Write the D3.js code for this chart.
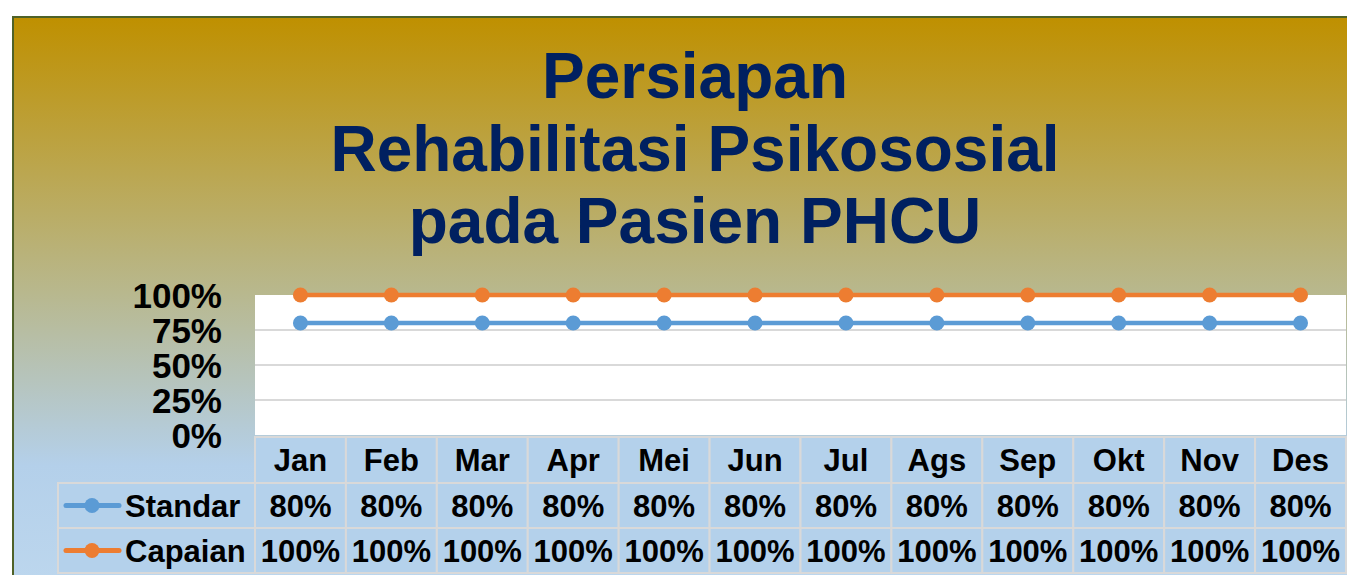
<!DOCTYPE html>
<html>
<head>
  <meta charset="utf-8">
  <title>Persiapan Rehabilitasi Psikososial</title>
  <script src="https://d3js.org/d3.v7.min.js"></script>
  <style>
    body { margin: 0; background: #fff; }
    text { font-family: "Liberation Sans", Arial, sans-serif; font-weight: bold; }
  </style>
</head>
<body>
  <svg id="chart"></svg>
  <script>
    // data
    var months = ["Jan", "Feb", "Mar", "Apr", "Mei", "Jun", "Jul", "Ags", "Sep", "Okt", "Nov", "Des"];
    var standar = [0.8, 0.8, 0.8, 0.8, 0.8, 0.8, 0.8, 0.8, 0.8, 0.8, 0.8, 0.8];
    var capaian = [1, 1, 1, 1, 1, 1, 1, 1, 1, 1, 1, 1];
    var yTicks = [0, 0.25, 0.5, 0.75, 1];
    var titleLines = ["Persiapan", "Rehabilitasi Psikososial", "pada Pasien PHCU"];

    var series = [
      { name: "Standar", values: standar, color: "#5b9bd5" },
      { name: "Capaian", values: capaian, color: "#ed7d31" }
    ];

    var W = 1347, H = 575;
    var plot = { left: 255, right: 1346, top: 295, bottom: 435 };

    var svg = d3.select("#chart").attr("width", W).attr("height", H);

    // background gradient
    var grad = svg.append("defs").append("linearGradient")
      .attr("id", "bg").attr("x1", 0).attr("y1", 0).attr("x2", 0).attr("y2", 1);
    grad.append("stop").attr("offset", "0%").attr("stop-color", "#bf9000");
    grad.append("stop").attr("offset", "48%").attr("stop-color", "#b8b88e");
    grad.append("stop").attr("offset", "78%").attr("stop-color", "#b4d0ea");
    grad.append("stop").attr("offset", "100%").attr("stop-color", "#bdd7ee");

    svg.append("rect")
      .attr("x", 13).attr("y", 17).attr("width", W + 20).attr("height", H)
      .attr("fill", "url(#bg)")
      .attr("stroke", "#4f6228").attr("stroke-width", 2);

    // title
    svg.append("text")
      .attr("text-anchor", "middle")
      .attr("fill", "#002060")
      .style("font-size", "64px")
      .selectAll("tspan")
      .data(titleLines)
      .enter().append("tspan")
      .attr("x", 695)
      .attr("y", function (d, i) { return 98 + i * 72.5; })
      .text(function (d) { return d; });

    // scales
    var x = d3.scaleBand().domain(months).range([plot.left, plot.right]).padding(0);
    var y = d3.scaleLinear().domain([0, 1]).range([plot.bottom, plot.top]);

    // plot area
    svg.append("rect")
      .attr("x", plot.left).attr("y", plot.top)
      .attr("width", plot.right - plot.left).attr("height", plot.bottom - plot.top)
      .attr("fill", "#fff");

    svg.append("g").selectAll("line")
      .data(yTicks.slice(1, 4))
      .enter().append("line")
      .attr("x1", plot.left).attr("x2", plot.right)
      .attr("y1", function (d) { return y(d); }).attr("y2", function (d) { return y(d); })
      .attr("stroke", "#d9d9d9").attr("stroke-width", 2);

    // y axis labels
    var yAxis = d3.axisLeft(y).tickValues(yTicks).tickFormat(d3.format(".0%")).tickSize(0).tickPadding(0);
    var ya = svg.append("g").attr("transform", "translate(222,0)").call(yAxis);
    ya.select(".domain").remove();
    ya.selectAll("text")
      .attr("fill", "#000")
      .attr("dy", null)
      .attr("y", 12.5)
      .style("font-size", "35px")
      .style("font-family", "'Liberation Sans', Arial, sans-serif")
      .style("font-weight", "bold");

    // lines
    var line = d3.line()
      .x(function (d, i) { return x(months[i]) + x.bandwidth() / 2; })
      .y(function (d) { return y(d); });

    series.forEach(function (s) {
      var g = svg.append("g");
      g.append("path")
        .attr("d", line(s.values))
        .attr("fill", "none")
        .attr("stroke", s.color)
        .attr("stroke-width", 4.5);
      g.selectAll("circle")
        .data(s.values)
        .enter().append("circle")
        .attr("cx", function (d, i) { return x(months[i]) + x.bandwidth() / 2; })
        .attr("cy", function (d) { return y(d); })
        .attr("r", 7.5)
        .attr("fill", s.color);
    });

    // data table
    var rowTop = [437, 483, 528];
    var rowH = [46, 45, 45];
    var firstColX = 58;
    var cellFill = "#b4d1eb", gridCol = "#d9d9d9";
    var table = svg.append("g");

    // header row
    months.forEach(function (m) {
      table.append("rect")
        .attr("x", x(m)).attr("y", rowTop[0])
        .attr("width", x.bandwidth()).attr("height", rowH[0])
        .attr("fill", cellFill).attr("stroke", gridCol).attr("stroke-width", 2);
      table.append("text")
        .attr("x", x(m) + x.bandwidth() / 2).attr("y", rowTop[0] + rowH[0] / 2 + 11)
        .attr("text-anchor", "middle").style("font-size", "31px")
        .text(m);
    });

    // series rows
    series.forEach(function (s, r) {
      var top = rowTop[r + 1], h = rowH[r + 1];
      table.append("rect")
        .attr("x", firstColX).attr("y", top)
        .attr("width", plot.left - firstColX).attr("height", h)
        .attr("fill", cellFill).attr("stroke", gridCol).attr("stroke-width", 2);
      var cy = top + h / 2;
      table.append("line")
        .attr("x1", 66).attr("x2", 119).attr("y1", cy).attr("y2", cy)
        .attr("stroke", s.color).attr("stroke-width", 5).attr("stroke-linecap", "round");
      table.append("circle")
        .attr("cx", 92).attr("cy", cy).attr("r", 7.5).attr("fill", s.color);
      table.append("text")
        .attr("x", 125).attr("y", cy + 11)
        .style("font-size", "31px")
        .text(s.name);

      s.values.forEach(function (v, i) {
        table.append("rect")
          .attr("x", x(months[i])).attr("y", top)
          .attr("width", x.bandwidth()).attr("height", h)
          .attr("fill", cellFill).attr("stroke", gridCol).attr("stroke-width", 2);
        table.append("text")
          .attr("x", x(months[i]) + x.bandwidth() / 2).attr("y", cy + 11)
          .attr("text-anchor", "middle").style("font-size", "31px")
          .text(d3.format(".0%")(v));
      });
    });
  </script>
</body>
</html>
